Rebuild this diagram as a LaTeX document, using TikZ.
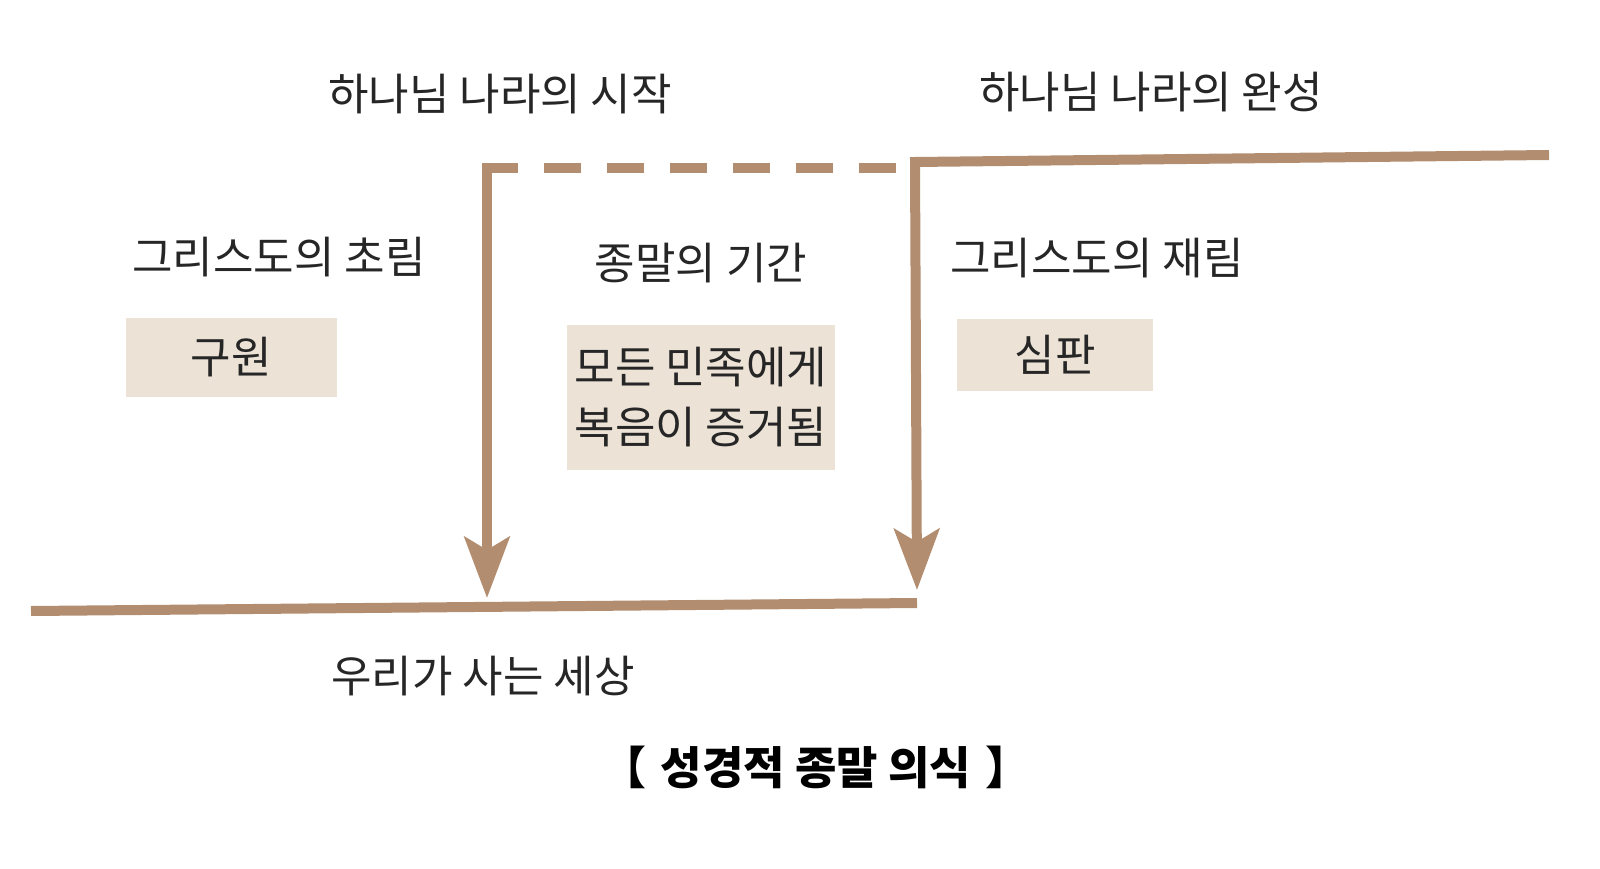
\documentclass[tikz,border=0pt]{standalone}
\usepackage{fontspec}
\setmainfont{Noto Sans CJK KR}
\usetikzlibrary{arrows.meta}
\definecolor{brn}{HTML}{B38D70}
\definecolor{boxfill}{HTML}{ECE2D6}
\definecolor{txt}{HTML}{262626}
\tikzset{
  lbl/.style={text=txt, inner sep=0pt, font=\fontsize{44}{52}\selectfont},
  title/.style={text=black, inner sep=0pt, font=\fontsize{45}{52}\selectfont\bfseries},
  tagbox/.style={fill=boxfill, text=txt, inner sep=0pt, align=center, font=\fontsize{44}{60}\selectfont},
  bar/.style={draw=brn, line width=10pt, line cap=butt, line join=miter},
  tip/.style={-{Stealth[length=61pt,width=45pt,inset=13pt]}}
}
\begin{document}
\begin{tikzpicture}[x=1pt,y=-1pt]
\useasboundingbox (0,0) rectangle (1600,869);
% texts
\node[lbl] (start) at (500,94) {하나님 나라의 시작};
\node[lbl] (compl) at (1151,92) {하나님 나라의 완성};
\node[lbl] (first) at (279,257) {그리스도의 초림};
\node[lbl] (period) at (701,263) {종말의 기간};
\node[lbl] (second) at (1097,258) {그리스도의 재림};
\node[tagbox, minimum width=211pt, minimum height=79pt] (salv) at (231,357) {구원};
\node[tagbox, minimum width=268pt, minimum height=145pt] (gospel) at (701,397) {모든 민족에게\\복음이 증거됨};
\node[tagbox, minimum width=196pt, minimum height=72pt] (judg) at (1055,355) {심판};
\node[lbl] (world) at (483,676) {우리가 사는 세상};
\node[title] (ttl) at (816,767) {【\hspace{14pt}성경적 종말 의식\hspace{14pt}】};
% line coordinates
\coordinate (tl) at (487,168);
\coordinate (dashend) at (905,168);
\coordinate (tipL) at (487,598);
\coordinate (tr) at (915,162);
\coordinate (rend) at (1549,155);
\coordinate (tipR) at (917,590);
\coordinate (bl) at (31,611);
\coordinate (br) at (917,603);
% lines
\draw[bar, dash pattern=on 37pt off 26pt, dash phase=1pt] ([xshift=-5pt]tl) -- (dashend);
\draw[bar, tip] ([yshift=5pt]tl) -- (tipL);
\draw[bar, tip] (rend) -- (tr) -- (tipR);
\draw[bar] (bl) -- (br);
\end{tikzpicture}
\end{document}
